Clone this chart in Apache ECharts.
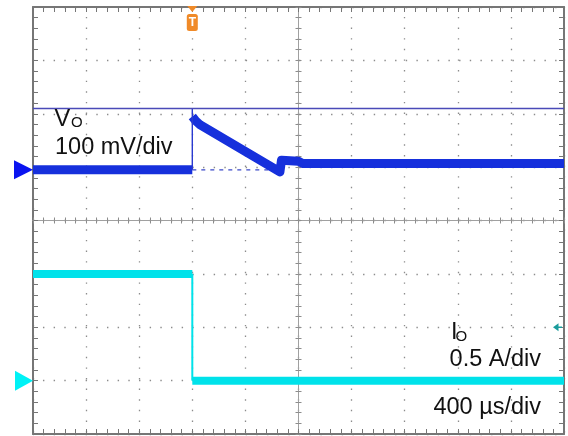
<!DOCTYPE html>
<html>
<head>
<meta charset="utf-8">
<script src="https://cdn.jsdelivr.net/npm/echarts@6/dist/echarts.min.js"></script>
<style>
html, body { margin: 0; padding: 0; background: #ffffff; }
#scope { width: 568px; height: 436px; }
</style>
</head>
<body>
<div id="scope"></div>
<script>
// ---- Screen graticule: 10 x 8 divisions ----
const DIV_X_MIN = -5, DIV_X_MAX = 5;
const DIV_Y_MIN = -4, DIV_Y_MAX = 4;
const MINOR_PER_DIV = 5;

// ---- Time base: 400 µs/div, trigger at t = 0 µs ----
const TIME_PER_DIV = 400;
const TIME_TRIGGER_DIV = -2;          // trigger sits two divisions left of centre

// ---- Channel 1: output voltage V_O (AC), mV, 100 mV/div ----
const VO_PER_DIV = 100;
const VO_REF_DIV = 0.95;              // ground marker position, divisions above centre
const VO_BEFORE = [[-1200, 0], [0, 0]];
const VO_AFTER = [[0, 100], [25, 92], [60, 84], [660, -4], [672, 18], [800, 16], [830, 12], [2800, 12]];
const VO_EDGE = [[0, 0], [0, 116]];
const VO_CURSOR = 116;                // horizontal cursor level, mV
const VO_GHOST = [[0, 0], [660, 0]];  // dashed pre-step level

// ---- Channel 2: output current I_O, A, 0.5 A/div ----
const IO_PER_DIV = 0.5;
const IO_REF_DIV = -3;
const IO_BEFORE = [[-1200, 1.0], [0, 1.0]];
const IO_AFTER = [[0, 0], [2800, 0]];
const IO_EDGE = [[0, 1.0], [0, 0]];
const IO_LEVEL = 0.5;                 // small level marker on the right edge

// ---- Readout text ----
const VO_NAME = ['V', 'O'];
const VO_SCALE_TEXT = '100 mV/div';
const IO_NAME = ['I', 'O'];
const IO_SCALE_TEXT = '0.5 A/div';
const TIME_SCALE_TEXT = '400 µs/div';

const COL_GRID = '#8c8c8c';
const COL_BORDER = '#767676';
const COL_VO = '#1630dc';
const COL_IO = '#00e2ea';
const FONT = '"Liberation Sans", Arial, sans-serif';

const timeMin = (DIV_X_MIN - TIME_TRIGGER_DIV) * TIME_PER_DIV;
const timeMax = (DIV_X_MAX - TIME_TRIGGER_DIV) * TIME_PER_DIV;
const voMin = (DIV_Y_MIN - VO_REF_DIV) * VO_PER_DIV;
const voMax = (DIV_Y_MAX - VO_REF_DIV) * VO_PER_DIV;
const ioMin = (DIV_Y_MIN - IO_REF_DIV) * IO_PER_DIV;
const ioMax = (DIV_Y_MAX - IO_REF_DIV) * IO_PER_DIV;

function divAxis(dim, position, opts) {
  const isX = dim === 'x';
  return Object.assign({
    type: 'value',
    min: isX ? DIV_X_MIN : DIV_Y_MIN,
    max: isX ? DIV_X_MAX : DIV_Y_MAX,
    interval: 1,
    position: position,
    axisLabel: { show: false },
    axisLine: { show: true, onZero: false, lineStyle: { color: COL_BORDER, width: 2 } },
    axisTick: { show: true, inside: true, length: 5, lineStyle: { color: COL_BORDER, width: 1 } },
    minorTick: { show: true, splitNumber: MINOR_PER_DIV, length: 5, lineStyle: { color: COL_BORDER, width: 1 } },
    splitLine: { show: false },
    minorSplitLine: { show: false }
  }, opts || {});
}

function centreAxis(dim, position) {
  return divAxis(dim, position, {
    axisLine: { show: true, onZero: true, onZeroAxisIndex: 0, lineStyle: { color: '#a0a0a0', width: 1 } },
    axisTick: { show: true, inside: true, length: 3, lineStyle: { color: COL_GRID, width: 1 } },
    minorTick: { show: true, splitNumber: MINOR_PER_DIV, length: 3, lineStyle: { color: COL_GRID, width: 1 } }
  });
}

const xAxes = [
  centreAxis('x', 'bottom'),
  centreAxis('x', 'top'),
  divAxis('x', 'bottom'),
  divAxis('x', 'top'),
  { type: 'value', min: timeMin, max: timeMax, show: false }
];
const yAxes = [
  centreAxis('y', 'left'),
  centreAxis('y', 'right'),
  divAxis('y', 'left'),
  divAxis('y', 'right'),
  { type: 'value', min: voMin, max: voMax, show: false },
  { type: 'value', min: ioMin, max: ioMax, show: false }
];
// dotted graticule lines, one dot per minor division
xAxes[0].splitLine = { show: true, lineStyle: { color: COL_GRID, width: 1.3, type: [1.4, 9.22], dashOffset: 0.7 } };
yAxes[0].splitLine = { show: true, lineStyle: { color: COL_GRID, width: 1.3, type: [1.4, 9.27], dashOffset: 0.7 } };

const T = 4, VO = 4, IO = 5;

function trace(name, data, yIdx, color, width, z) {
  return {
    name: name, type: 'line', xAxisIndex: T, yAxisIndex: yIdx, data: data,
    showSymbol: false, symbol: 'none', animation: false, silent: true, z: z || 3,
    lineStyle: { color: color, width: width, cap: 'butt', join: 'round' }
  };
}

const voBefore = trace('VO', VO_BEFORE, VO, COL_VO, 9, 4);
const voAfter = trace('VO', VO_AFTER, VO, COL_VO, 9, 4);
const voEdge = trace('VO edge', VO_EDGE, VO, '#2a3ad0', 1.4, 4);
const voGhost = trace('VO ref', VO_GHOST, VO, '#3a48c8', 1.2, 3);
voGhost.lineStyle.type = [4, 5];
voBefore.markLine = {
  silent: true, symbol: 'none', animation: false,
  label: { show: false },
  lineStyle: { color: '#4a4ab8', width: 1.3, type: 'solid' },
  data: [{ yAxis: VO_CURSOR }]
};

const ioBefore = trace('IO', IO_BEFORE, IO, COL_IO, 8, 3);
const ioAfter = trace('IO', IO_AFTER, IO, COL_IO, 8, 3);
const ioEdge = trace('IO edge', IO_EDGE, IO, COL_IO, 2, 3);

const chart = echarts.init(document.getElementById('scope'), null, { renderer: 'canvas' });
chart.setOption({
  backgroundColor: '#ffffff',
  animation: false,
  grid: { left: 33, right: 4, top: 7, bottom: 2, containLabel: false },
  xAxis: xAxes,
  yAxis: yAxes,
  series: [voGhost, ioBefore, ioAfter, ioEdge, voBefore, voAfter, voEdge]
});

// ---- Channel markers, trigger flag and readouts placed from the axes ----
const xTrig = chart.convertToPixel({ xAxisIndex: T }, 0);
const xLeft = chart.convertToPixel({ xAxisIndex: T }, timeMin);
const xRight = chart.convertToPixel({ xAxisIndex: T }, timeMax);
const yVoRef = chart.convertToPixel({ yAxisIndex: VO }, 0);
const yIoRef = chart.convertToPixel({ yAxisIndex: IO }, 0);
const yIoLevel = chart.convertToPixel({ yAxisIndex: IO }, IO_LEVEL);
const yTop = chart.convertToPixel({ yAxisIndex: VO }, voMax);

function txt(x, y, s, size, align) {
  return {
    type: 'text', x: x, y: y, z: 20, silent: true,
    style: { text: s, font: size + 'px ' + FONT, fill: '#111111', align: align || 'left', verticalAlign: 'middle' }
  };
}

chart.setOption({
  graphic: [
    // ground markers
    { type: 'polygon', z: 20, silent: true, shape: { points: [[xLeft - 19, yVoRef - 9.5], [xLeft, yVoRef], [xLeft - 19, yVoRef + 9.5]] }, style: { fill: '#0a14f0' } },
    { type: 'polygon', z: 20, silent: true, shape: { points: [[xLeft - 18, yIoRef - 10], [xLeft, yIoRef], [xLeft - 18, yIoRef + 10]] }, style: { fill: '#00f2f6' } },
    // level marker on the right edge
    { type: 'polygon', z: 20, silent: true, shape: { points: [[xRight - 11, yIoLevel], [xRight - 5.5, yIoLevel - 4], [xRight - 5.5, yIoLevel + 4]] }, style: { fill: '#1a9c9c' } },
    { type: 'line', z: 20, silent: true, shape: { x1: xRight - 6, y1: yIoLevel, x2: xRight - 2, y2: yIoLevel }, style: { stroke: '#1a9c9c', lineWidth: 1.5 } },
    // trigger position flag
    { type: 'polygon', z: 21, silent: true, shape: { points: [[xTrig - 5, yTop - 1], [xTrig + 5, yTop - 1], [xTrig, yTop + 5]] }, style: { fill: '#f08a28' } },
    { type: 'rect', z: 21, silent: true, shape: { x: xTrig - 5.5, y: yTop + 7, width: 11, height: 17, r: 2.5 }, style: { fill: '#f08a28' } },
    { type: 'text', z: 22, silent: true, x: xTrig, y: yTop + 16, style: { text: 'T', font: 'bold 12px ' + FONT, fill: '#ffffff', align: 'center', verticalAlign: 'middle' } },
    // readouts
    txt(54.5, 119.5, VO_NAME[0], 23.5),
    txt(71, 123, VO_NAME[1], 15),
    txt(55, 147.5, VO_SCALE_TEXT, 23.5),
    txt(451, 333, IO_NAME[0], 23.5),
    txt(455.5, 336.5, IO_NAME[1], 15),
    txt(541, 359.5, IO_SCALE_TEXT, 23.5, 'right'),
    txt(541, 408, TIME_SCALE_TEXT, 23.5, 'right')
  ]
});
</script>
</body>
</html>
